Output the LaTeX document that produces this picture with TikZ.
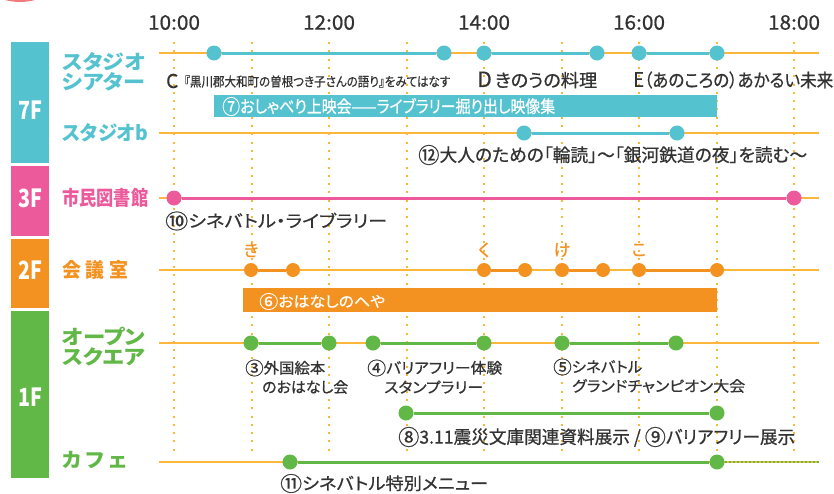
\documentclass[tikz,border=0pt]{standalone}
\usepackage{fontspec}
\usepackage{graphicx}
\setmainfont{Noto Sans CJK JP}[RawFeature=+palt]
\newfontfamily\medf{Noto Sans CJK JP}[RawFeature=+palt, FakeBold=0.7]
\definecolor{teal7}{HTML}{55C2D0}
\definecolor{pink3}{HTML}{ED5A9C}
\definecolor{org2}{HTML}{F39220}
\definecolor{grn1}{HTML}{62B846}
\definecolor{rowc}{HTML}{FAB73B}
\definecolor{txt}{HTML}{333333}
\definecolor{salmon}{HTML}{F27A7A}
\newcommand\myfs[1]{\fontsize{#1pt}{#1pt}\selectfont}
\newcommand\fitw[2]{\resizebox{#1pt}{\height}{#2}}
\newcommand\cnum[1]{\raisebox{-0.09em}{\scalebox{1.2}{#1}}}
\tikzset{
  rowline/.style={draw=rowc, line width=2pt},
  dotv/.style={draw=rowc, line width=2pt, dash pattern=on 2pt off 6.3pt},
  seg/.style={line width=3pt},
  dot/.style={circle, inner sep=0pt, minimum size=15pt},
  lab/.style={anchor=west, inner sep=0pt, text=txt, font=\medf},
  rowlab/.style={anchor=west, inner sep=0pt, font=\bfseries\myfs{20}},
  floorlab/.style={inner sep=0pt, text=white, font=\bfseries\myfs{25}},
  timelab/.style={inner sep=0pt, text=txt, font=\medf\myfs{20}},
  barbox/.style={inner sep=0pt, anchor=west},
}
\begin{document}
\begin{tikzpicture}[x=1pt,y=-1pt]
\useasboundingbox (0,0) rectangle (834,493);
% decorative arc top left
\begin{scope}
\clip (0,0) rectangle (834,493);
\fill[salmon] (20,-55) circle (57);
\end{scope}
% floor bars
\fill[teal7] (11,42) rectangle (49,163);
\fill[pink3] (11,166) rectangle (49,236);
\fill[org2] (11,239) rectangle (49,308);
\fill[grn1] (11,311) rectangle (49,478);
\node[floorlab] (f7) at (30,110) {\fitw{24}{7F}};
\node[floorlab] (f3) at (30,198) {\fitw{24}{3F}};
\node[floorlab] (f2) at (30,270) {\fitw{24}{2F}};
\node[floorlab] (f1) at (30,397) {\fitw{24}{1F}};
% time labels
\foreach \h/\t in {10/10:00,12/12:00,14/14:00,16/16:00,18/18:00}
  \node[timelab] (t\h) at ({174+77.5*(\h-10)},22.5) {\fitw{52}{\t}};
% dotted hour lines
\foreach \i in {0,...,8}{
  \coordinate (vt\i) at ({174+77.5*\i},42);
  \coordinate (vb\i) at ({174+77.5*\i},453);
  \draw[dotv] (vt\i) -- (vb\i);
}
% row labels
\node[rowlab, text=teal7] (rl1a) at (62,62) {\fitw{83}{スタジオ}};
\node[rowlab, text=teal7] (rl1b) at (62,82) {\fitw{83}{シアター}};
\node[rowlab, text=teal7] (rl2) at (62,133) {\fitw{86}{スタジオb}};
\node[rowlab, text=pink3] (rl3) at (62,198) {\fitw{86}{市民図書館}};
\node[rowlab, text=org2] (rl4) at (62,270) {\fitw{66}{会\hspace{5pt}議\hspace{5pt}室}};
\node[rowlab, text=grn1] (rl5a) at (62,337) {\fitw{83}{オープン}};
\node[rowlab, text=grn1] (rl5b) at (62,357) {\fitw{83}{スクエア}};
\node[rowlab, text=grn1] (rl6) at (62,460) {\fitw{65}{カ\hspace{4pt}フ\hspace{4pt}ェ}};
% ---- bars
\node[barbox, fill=teal7, minimum width=503pt, minimum height=22pt] (b7) at (214,106) {};
\node[lab, text=white] (b7t) at (222,106.5) {\myfs{17}\fitw{333}{\cnum{⑦}おしゃべり上映会——ライブラリー掘り出し映像集}};
\node[barbox, fill=org2, minimum width=474pt, minimum height=23.5pt] (b6) at (243,300) {};
\node[lab, text=white] (b6t) at (259,301.5) {\myfs{15}\fitw{126}{\cnum{⑥}おはなしのへや}};
% ---- Studio theater row
\coordinate (stL) at (159,53); \coordinate (stR) at (819,53);
\draw[rowline] (stL) -- (stR);
\node[dot, fill=teal7] (st1) at (214,53) {};
\node[dot, fill=teal7] (st2) at (444,53) {};
\node[dot, fill=teal7] (st3) at (484,53) {};
\node[dot, fill=teal7] (st4) at (597,53) {};
\node[dot, fill=teal7] (st5) at (639,53) {};
\node[dot, fill=teal7] (st6) at (717,53) {};
\draw[seg, teal7] (st1) -- (st2);
\draw[seg, teal7] (st3) -- (st4);
\draw[seg, teal7] (st5) -- (st6);
\node[lab] (lc) at (166,81) {\myfs{19}C};
\node[lab] (lc2) at (184,81.5) {\myfs{13}\fitw{266}{『黒川郡大和町の曽根つき子さんの語り』をみてはなす}};
\node[lab] (ld) at (477,80) {\myfs{18}\fitw{120}{{\myfs{21}D}\,きのうの料理}};
\node[lab] (le) at (633,80) {\myfs{18}\fitw{200}{{\myfs{20}E}（あのころの）あかるい未来}};
% ---- Studio b row
\coordinate (sbL) at (159,133); \coordinate (sbR) at (819,133);
\draw[rowline] (sbL) -- (sbR);
\node[dot, fill=teal7] (sb1) at (524,133) {};
\node[dot, fill=teal7] (sb2) at (677,133) {};
\draw[seg, teal7] (sb1) -- (sb2);
\node[lab] (l12) at (418,155) {\myfs{18}\fitw{389}{\cnum{⑫}大人のための「輪読」〜「銀河鉄道の夜」を読む〜}};
% ---- Library row
\coordinate (lbL) at (159,198); \coordinate (lbR) at (819,198);
\draw[rowline] (lbL) -- (lbR);
\node[dot, fill=pink3] (lb1) at (174,198) {};
\node[dot, fill=pink3] (lb2) at (794,198) {};
\draw[seg, pink3] (lb1) -- (lb2);
\node[lab] (l10) at (165,221) {\myfs{17}\fitw{222}{\cnum{⑩}シネバトル・ライブラリー}};
% ---- Meeting room row
\coordinate (kgL) at (159,270); \coordinate (kgR) at (819,270);
\draw[rowline] (kgL) -- (kgR);
\foreach \n/\x in {1/251,2/293,3/484,4/525,5/562,6/603,7/639,8/717}
  \node[dot, fill=org2, minimum size=14pt] (kg\n) at (\x,270) {};
\draw[seg, org2] (kg1) -- (kg2);
\draw[seg, org2] (kg3) -- (kg4);
\draw[seg, org2] (kg5) -- (kg6);
\draw[seg, org2] (kg7) -- (kg8);
\node[inner sep=0pt, text=org2, font=\medf\myfs{17}] (kki) at (251,250) {き};
\node[inner sep=0pt, text=org2, font=\medf\myfs{17}] (kku) at (484,250) {く};
\node[inner sep=0pt, text=org2, font=\medf\myfs{17}] (kke) at (562,250) {け};
\node[inner sep=0pt, text=org2, font=\medf\myfs{17}] (kko) at (639,250) {こ};
% ---- Open square row
\coordinate (osL) at (159,343); \coordinate (osR) at (819,343);
\draw[rowline] (osL) -- (osR);
\foreach \n/\x in {1/251,2/329,3/373,4/484,5/562,6/676}
  \node[dot, fill=grn1] (os\n) at (\x,343) {};
\draw[seg, grn1] (os1) -- (os2);
\draw[seg, grn1] (os3) -- (os4);
\draw[seg, grn1] (os5) -- (os6);
\node[lab] (l3a) at (245,368) {\myfs{15}\fitw{80}{\cnum{③}外国絵本}};
\node[lab] (l3b) at (262,387) {\myfs{15}\fitw{86}{のおはなし会}};
\node[lab] (l4a) at (367,368) {\myfs{15}\fitw{135}{\cnum{④}バリアフリー体験}};
\node[lab] (l4b) at (384,387) {\myfs{15}\fitw{99}{スタンプラリー}};
\node[lab] (l5a) at (553,367) {\myfs{15}\fitw{89}{\cnum{⑤}シネバトル}};
\node[lab] (l5b) at (572,386) {\myfs{15}\fitw{173}{グランドチャンピオン大会}};
% ---- exhibition row
\node[dot, fill=grn1] (ex1) at (406,413) {};
\node[dot, fill=grn1] (ex2) at (717,413) {};
\draw[seg, grn1] (ex1) -- (ex2);
\node[lab] (l8) at (398,437) {\myfs{18}\fitw{397}{\cnum{⑧}3.11震災文庫関連資料展示 / \cnum{⑨}バリアフリー展示}};
% ---- cafe row
\coordinate (cfL) at (159,462); \coordinate (cfR) at (819,462);
\draw[rowline] (cfL) -- (cfR);
\node[dot, fill=grn1] (cf1) at (290,462) {};
\node[dot, fill=grn1] (cf2) at (717,462) {};
\draw[seg, grn1] (cf1) -- (cf2);
\draw[grn1, line width=2pt, dash pattern=on 2pt off 2pt] (cf2) -- (cfR);
\node[lab] (l11) at (280,483.5) {\myfs{17}\fitw{208}{\cnum{⑪}シネバトル特別メニュー}};
\end{tikzpicture}
\end{document}
